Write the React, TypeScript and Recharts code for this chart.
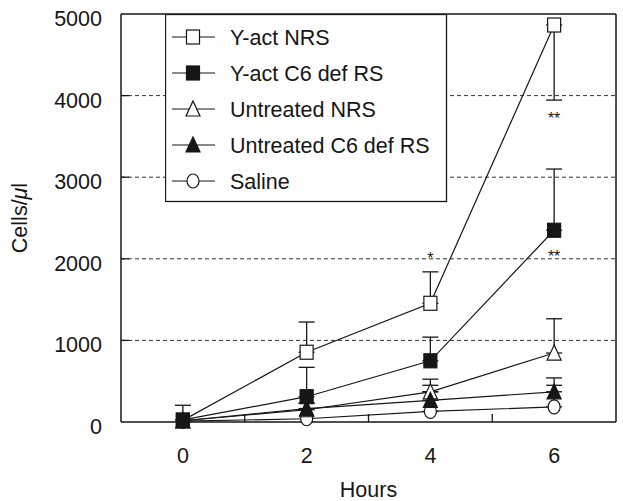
import React from 'react';
import {
  LineChart,
  Line,
  XAxis,
  YAxis,
  CartesianGrid,
  ErrorBar,
  ReferenceLine,
  ReferenceDot,
  Legend,
  Label,
} from 'recharts';

const hours = [0, 2, 4, 6];
const yActNRS = [20, 855, 1455, 4865];
const yActNRSErr = [null, [0, 370], [0, 385], [920, 0]];
const yActC6 = [25, 310, 750, 2350];
const yActC6Err = [[0, 180], [0, 360], [0, 290], [0, 750]];
const untNRS = [15, 150, 370, 845];
const untNRSErr = [null, [0, 80], [0, 155], [0, 420]];
const untC6 = [15, 165, 265, 370];
const untC6Err = [null, [0, 70], [0, 185], [0, 170]];
const saline = [10, 40, 130, 185];
const salineErr = [null, null, [0, 240], [0, 265]];

const yTicks = [0, 1000, 2000, 3000, 4000, 5000];
const gridValues = [1000, 2000, 3000, 4000];
const xLabels = [0, 2, 4, 6];
const minorTicks = [1, 3, 5];
const stars = [
  { h: 4, v: 2045, text: '*' },
  { h: 6, v: 3760, text: '**' },
  { h: 6, v: 2070, text: '**' },
];

const data = hours.map((h, i) => ({
  h,
  yn: yActNRS[i],
  ynErr: yActNRSErr[i],
  yc: yActC6[i],
  ycErr: yActC6Err[i],
  un: untNRS[i],
  unErr: untNRSErr[i],
  uc: untC6[i],
  ucErr: untC6Err[i],
  sal: saline[i],
  salErr: salineErr[i],
}));

// legend order (top to bottom)
const series = [
  { key: 'yn', name: 'Y-act NRS', kind: 'openSquare' },
  { key: 'yc', name: 'Y-act C6 def RS', kind: 'fillSquare' },
  { key: 'un', name: 'Untreated NRS', kind: 'openTri' },
  { key: 'uc', name: 'Untreated C6 def RS', kind: 'fillTri' },
  { key: 'sal', name: 'Saline', kind: 'circle' },
];
// drawing order (last on top)
const drawOrder = ['sal', 'un', 'uc', 'yn', 'yc'];

const INK = '#161616';
const FONT = '"Liberation Sans", Arial, sans-serif';
const FS = 21.5;

const Marker = ({ kind, cx, cy }: { kind: string; cx: number; cy: number }) => {
  const st = { stroke: INK, strokeWidth: 1.2 };
  switch (kind) {
    case 'openSquare':
      return <rect x={cx - 6.5} y={cy - 7} width={13} height={14} fill="#fff" {...st} />;
    case 'fillSquare':
      return <rect x={cx - 6.5} y={cy - 7} width={13} height={14} fill={INK} {...st} />;
    case 'openTri':
      return (
        <polygon
          points={`${cx},${cy - 8} ${cx + 7},${cy + 7} ${cx - 7},${cy + 7}`}
          fill="#fff"
          {...st}
        />
      );
    case 'fillTri':
      return (
        <polygon
          points={`${cx},${cy - 8} ${cx + 7},${cy + 7} ${cx - 7},${cy + 7}`}
          fill={INK}
          {...st}
        />
      );
    default:
      return <ellipse cx={cx} cy={cy} rx={6} ry={7} fill="#fff" {...st} />;
  }
};

const makeDot = (kind: string) => (p: any) => {
  if (p.cx == null || p.cy == null) return <g key={p.index} />;
  return (
    <g key={p.index}>
      <Marker kind={kind} cx={p.cx} cy={p.cy} />
    </g>
  );
};

const XTick = (p: any) => {
  const v = p.payload.value;
  if (minorTicks.includes(v)) {
    return <line x1={p.x} x2={p.x} y1={p.y} y2={p.y - 8} stroke={INK} strokeWidth={1.3} />;
  }
  return (
    <text x={p.x} y={p.y + 41} textAnchor="middle" fontSize={FS} fill={INK} fontFamily={FONT}>
      {v}
    </text>
  );
};

const YTick = (p: any) => {
  const v = p.payload.value;
  return (
    <g>
      {v > 0 && v < 5000 && (
        <line x1={p.x} x2={p.x + 8} y1={p.y} y2={p.y} stroke={INK} strokeWidth={1.3} />
      )}
      <text x={p.x - 19} y={p.y + 12} textAnchor="end" fontSize={FS} fill={INK} fontFamily={FONT}>
        {v}
      </text>
    </g>
  );
};

const LegendBox = () => (
  <svg width={283} height={189} style={{ display: 'block' }}>
    <rect x={0.5} y={0.5} width={281} height={187} fill="#fff" stroke={INK} strokeWidth={1.3} />
    {series.map((s, i) => {
      const cy = 23 + 36 * i;
      return (
        <g key={s.key}>
          <line x1={7} x2={50} y1={cy} y2={cy} stroke={INK} strokeWidth={1.2} />
          <Marker kind={s.kind} cx={28} cy={cy} />
          <text x={65} y={cy + 7.5} fontSize={FS} fill={INK} fontFamily={FONT}>
            {s.name}
          </text>
        </g>
      );
    })}
  </svg>
);

export default function App() {
  return (
    <div style={{ position: 'absolute', left: 0, top: 0, background: '#fff' }}>
      <LineChart
        width={623}
        height={501}
        data={data}
        margin={{ top: 14, right: 7, bottom: 0, left: 0 }}
      >
        <CartesianGrid
          vertical={false}
          horizontalValues={gridValues}
          stroke="#333"
          strokeDasharray="4 3"
          strokeWidth={1}
        />
        <XAxis
          dataKey="h"
          type="number"
          domain={[-1, 7]}
          ticks={[...xLabels, ...minorTicks].sort((a, b) => a - b)}
          interval={0}
          height={79}
          tickLine={false}
          tickSize={0}
          tickMargin={0}
          tick={<XTick />}
          axisLine={{ stroke: INK, strokeWidth: 1.5 }}
        >
          <Label
            content={(p: any) => (
              <text
                x={p.viewBox.x + p.viewBox.width / 2}
                y={p.viewBox.y + 75}
                textAnchor="middle"
                fontSize={FS}
                fill={INK}
                fontFamily={FONT}
              >
                Hours
              </text>
            )}
          />
        </XAxis>
        <YAxis
          type="number"
          domain={[0, 5000]}
          ticks={yTicks}
          interval={0}
          width={121}
          tickLine={false}
          tickSize={0}
          tickMargin={0}
          tick={<YTick />}
          axisLine={{ stroke: INK, strokeWidth: 1.5 }}
        >
          <Label
            content={(p: any) => {
              const cx = p.viewBox.x + 27;
              const cy = p.viewBox.y + p.viewBox.height / 2;
              return (
                <text
                  transform={`translate(${cx},${cy}) rotate(-90)`}
                  textAnchor="middle"
                  fontSize={FS}
                  fill={INK}
                  fontFamily={FONT}
                >
                  Cells/<tspan fontStyle="italic">μ</tspan>l
                </text>
              );
            }}
          />
        </YAxis>
        <ReferenceLine y={5000} stroke={INK} strokeWidth={1.5} ifOverflow="visible" />
        <ReferenceLine x={7} stroke={INK} strokeWidth={1.5} ifOverflow="visible" />
        <Legend
          layout="vertical"
          align="center"
          verticalAlign="middle"
          wrapperStyle={{ left: 165, top: 14, width: 283, height: 189, margin: 0, padding: 0, lineHeight: 0 }}
          content={() => <LegendBox />}
        />
        {drawOrder.map((k) => {
          const s = series.find((x) => x.key === k)!;
          return (
            <Line
              key={k}
              type="linear"
              dataKey={k}
              name={s.name}
              stroke={INK}
              strokeWidth={1.2}
              dot={makeDot(s.kind)}
              activeDot={false}
              isAnimationActive={false}
            >
              <ErrorBar
                dataKey={`${k}Err`}
                direction="y"
                width={8}
                stroke={INK}
                strokeWidth={1.3}
                isAnimationActive={false}
              />
            </Line>
          );
        })}
        {stars.map((s, i) => (
          <ReferenceDot
            key={i}
            x={s.h}
            y={s.v}
            r={0}
            ifOverflow="visible"
            shape={(p: any) => (
              <text x={p.cx} y={p.cy + 9} textAnchor="middle" fontSize={16} fill={INK} fontFamily={FONT}>
                {s.text}
              </text>
            )}
          />
        ))}
      </LineChart>
    </div>
  );
}
